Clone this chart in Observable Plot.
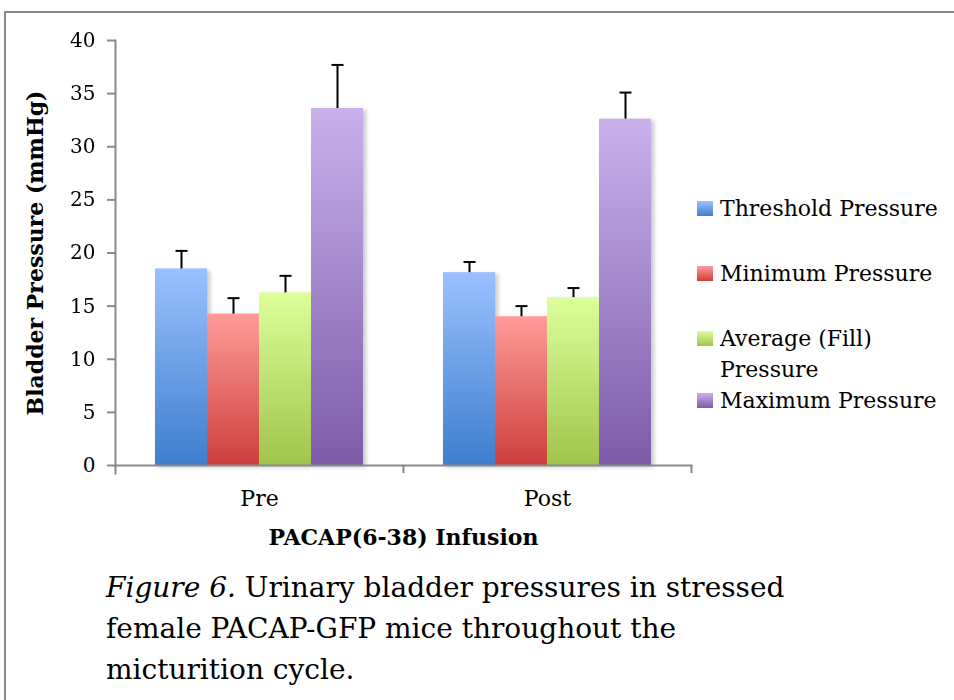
<!DOCTYPE html>
<html>
<head>
<meta charset="utf-8">
<script src="https://cdn.jsdelivr.net/npm/d3@7"></script>
<script src="https://cdn.jsdelivr.net/npm/@observablehq/plot@0.6"></script>
<style>
  html, body { margin: 0; padding: 0; background: #fff; }
  body { width: 954px; height: 700px; position: relative; overflow: hidden; font-family: "DejaVu Serif", serif; color: #000; }
  #frame { position: absolute; left: 4px; top: 11px; width: 960px; height: 700px; border-top: 2px solid #8a8a8a; border-left: 2px solid #8a8a8a; }
  #chart { position: absolute; left: 0; top: 0; }
  #legend { position: absolute; left: 697px; top: 0; font-size: 22px; }
  .item { position: absolute; white-space: nowrap; line-height: 31px; }
  .sw { position: absolute; left: 0; width: 16px; height: 15px; }
  .lab { position: absolute; left: 23px; top: 0; }
  #caption { position: absolute; left: 106px; top: 567px; font-size: 28px; line-height: 41px; white-space: nowrap; }
</style>
</head>
<body>
<div id="frame"></div>
<div id="chart"></div>
<div id="legend"></div>
<div id="caption"><i>Figure 6.</i> Urinary bladder pressures in stressed<br>female PACAP-GFP mice throughout the<br>micturition cycle.</div>
<script>
// ---- data ----
const categories = ["Pre", "Post"];
const series = ["Threshold Pressure", "Minimum Pressure", "Average (Fill) Pressure", "Maximum Pressure"];
const legendLabels = ["Threshold Pressure", "Minimum Pressure", "Average (Fill)<br>Pressure", "Maximum Pressure"];
const preValues = [18.5, 14.25, 16.25, 33.6];
const preErrors = [1.7, 1.5, 1.6, 4.1];
const postValues = [18.15, 14.0, 15.8, 32.6];
const postErrors = [1.0, 1.0, 0.9, 2.5];
const yTicks = [0, 5, 10, 15, 20, 25, 30, 35, 40];
const topColors = ["#9ac1ff", "#ff9b99", "#dcff9b", "#c9b1ec"];
const bottomColors = ["#3d7ecd", "#cd3f3c", "#9fc54a", "#7e5aa8"];

const data = [];
categories.forEach((cat, ci) => {
  const vals = ci === 0 ? preValues : postValues;
  const errs = ci === 0 ? preErrors : postErrors;
  series.forEach((s, si) => data.push({cat, series: s, value: vals[si], err: errs[si]}));
});

const W = 954, H = 560, ML = 115, MR = 263, MT = 40, MB = 95;
const facetW = (W - ML - MR) / categories.length;
const gradIds = series.map((_, i) => "grad" + i);
const axisGray = "#8a8a8a";

const capSymbol = {
  draw(context, size) {
    const r = Math.sqrt(size / Math.PI);
    context.moveTo(-r, 0);
    context.lineTo(r, 0);
  }
};

const chart = Plot.plot({
  width: W, height: H,
  marginTop: MT, marginBottom: MB, marginLeft: ML, marginRight: MR,
  style: {fontFamily: "DejaVu Serif", color: "black", background: "transparent", overflow: "visible"},
  fx: {domain: categories, padding: 0},
  x: {domain: series, paddingInner: 0, paddingOuter: 0.73, axis: null},
  y: {domain: [0, 40]},
  color: {type: "ordinal", domain: series, range: gradIds.map(id => `url(#${id})`)},
  marks: [
    Plot.barY(data, {fx: "cat", x: "series", y: "value", fill: "series", insetLeft: 0, insetRight: 0}),
    Plot.ruleX(data, {fx: "cat", x: "series", y1: "value", y2: d => d.value + d.err, stroke: "black", strokeWidth: 2}),
    Plot.dot(data, {fx: "cat", x: "series", y: d => d.value + d.err, symbol: capSymbol, r: 6, stroke: "black", strokeWidth: 2, fill: "none"}),
    Plot.frame({anchor: "bottom", facet: "super", stroke: axisGray, strokeWidth: 2}),
    Plot.frame({anchor: "left", facet: "super", stroke: axisGray, strokeWidth: 2, insetBottom: -8}),
    Plot.axisY({ticks: yTicks, tickSize: 8, tickPadding: 12, fontSize: 20, stroke: axisGray, strokeWidth: 2, fill: "black",
      label: "Bladder Pressure (mmHg)", labelAnchor: "center", labelOffset: 88, labelArrow: "none"}),
    Plot.axisFx({anchor: "bottom", tickSize: 0, tickPadding: 25, fontSize: 22, fill: "black",
      label: "PACAP(6-38) Infusion", labelAnchor: "center", labelOffset: 79, labelArrow: "none"}),
    Plot.axisFx({anchor: "bottom", tickSize: 8, text: null, label: null, dx: facetW / 2, stroke: axisGray, strokeWidth: 2})
  ]
});

// gradients
const svg = d3.select(chart);
const defs = svg.insert("defs", ":first-child");
gradIds.forEach((id, i) => {
  const g = defs.append("linearGradient").attr("id", id).attr("x1", 0).attr("y1", 0).attr("x2", 0).attr("y2", 1);
  g.append("stop").attr("offset", "0%").attr("stop-color", topColors[i]);
  g.append("stop").attr("offset", "100%").attr("stop-color", bottomColors[i]);
});
svg.selectAll('g[aria-label="bar"]').style("filter", "drop-shadow(3px 2px 2px rgba(0,0,0,0.22))");
svg.selectAll('g[aria-label="y-axis label"] text').style("font-size", "22px").style("font-weight", "bold");
svg.selectAll('g[aria-label="fx-axis label"] text').style("font-size", "22px").style("font-weight", "bold");
document.getElementById("chart").appendChild(chart);

// legend
const legendTops = [193, 258, 323, 385];
const legend = d3.select("#legend");
series.forEach((s, i) => {
  const item = legend.append("div").attr("class", "item").style("top", legendTops[i] + "px");
  item.append("div").attr("class", "sw")
    .style("top", "8px")
    .style("background", `linear-gradient(to bottom, ${topColors[i]}, ${bottomColors[i]})`);
  item.append("div").attr("class", "lab").html(legendLabels[i]);
});
</script>
</body>
</html>
